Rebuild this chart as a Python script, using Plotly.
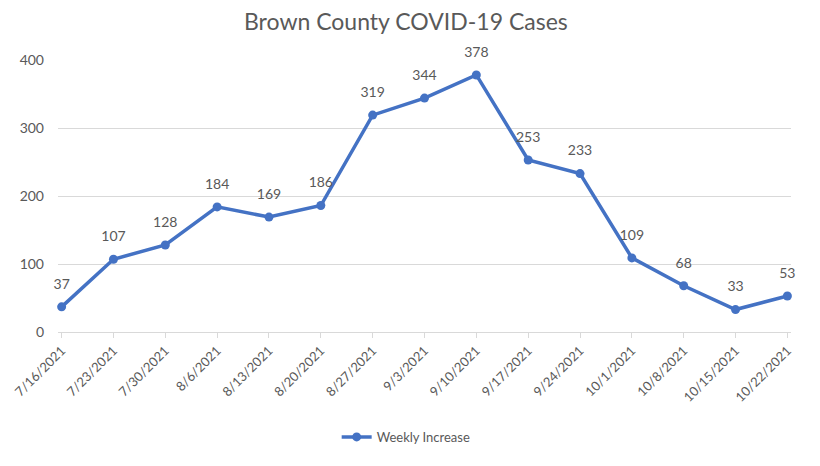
import plotly.graph_objects as go

dates = ["7/16/2021", "7/23/2021", "7/30/2021", "8/6/2021", "8/13/2021", "8/20/2021",
         "8/27/2021", "9/3/2021", "9/10/2021", "9/17/2021", "9/24/2021", "10/1/2021",
         "10/8/2021", "10/15/2021", "10/22/2021"]
weekly_increase = [37, 107, 128, 184, 169, 186, 319, 344, 378, 253, 233, 109, 68, 33, 53]
y_ticks = [0, 100, 200, 300, 400]

idx = list(range(len(dates)))
grey = "#595959"
font = "Lato, Calibri, sans-serif"

fig = go.Figure()
fig.add_trace(go.Scatter(
    x=idx, y=weekly_increase, mode="lines+markers",
    name="Weekly Increase",
    line=dict(color="#4472C4", width=3.5),
    marker=dict(color="#4472C4", size=9),
    cliponaxis=False,
))
# data labels (offset above the points)
fig.add_trace(go.Scatter(
    x=idx, y=weekly_increase, mode="markers+text",
    marker=dict(color="rgba(0,0,0,0)", size=22),
    text=[str(v) for v in weekly_increase],
    textposition="top center",
    textfont=dict(size=14, color=grey, family=font),
    showlegend=False, hoverinfo="skip",
    cliponaxis=False,
))

fig.update_layout(
    width=812, height=458,
    paper_bgcolor="white", plot_bgcolor="white",
    margin=dict(l=50, r=29, t=52, b=134, autoexpand=False),
    title=dict(text="Brown County COVID-19 Cases", x=0.49, xanchor="center",
               y=0.969, yanchor="middle",
               font=dict(size=23, color=grey, family=font)),
    font=dict(family=font, color=grey),
    showlegend=True,
    legend=dict(orientation="h", x=0.475, xanchor="center", y=-0.386, yanchor="middle",
                font=dict(size=13, color=grey)),
    xaxis=dict(
        tickmode="array", tickvals=idx, ticktext=dates, tickangle=-45,
        range=[-0.07, len(dates) - 1 + 0.07], automargin=False,
        showgrid=False, showline=True, linecolor="#d9d9d9", linewidth=1,
        ticks="outside", tickcolor="#d9d9d9", ticklen=5,
        tickfont=dict(size=13, color=grey), zeroline=False,
    ),
    yaxis=dict(
        range=[0, 400], tickvals=y_ticks, showgrid=True, gridcolor="#d9d9d9",
        gridwidth=1, zeroline=False, showline=False, ticks="", automargin=False,
        ticklabelstandoff=13,
        tickfont=dict(size=14, color=grey),
    ),
)

fig.write_html("out.html")
